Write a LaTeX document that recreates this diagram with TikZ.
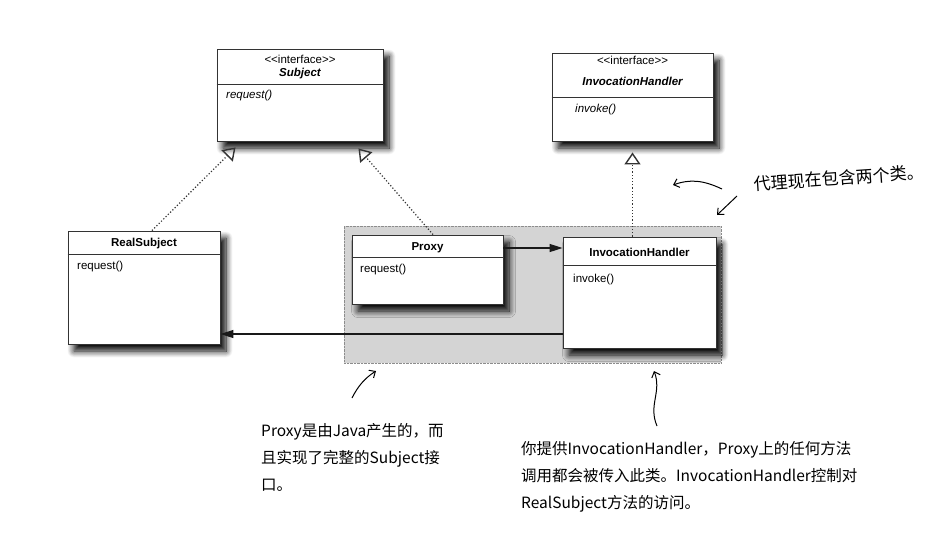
\documentclass[tikz,border=0pt]{standalone}
\usepackage{fontspec}
\setmainfont{Liberation Sans}
\newfontfamily\cjkfont{Noto Sans CJK SC}
\usetikzlibrary{arrows.meta,shadows.blur}

\tikzset{
  classbox/.style={rectangle, draw=black!80, line width=0.9pt, fill=white, inner sep=0pt,
    blur shadow={shadow xshift=6pt, shadow yshift=-7pt, shadow blur radius=6.5pt, shadow blur steps=10, shadow opacity=100}},
  classline/.style={draw=black!80, line width=0.9pt},
  umltext/.style={font=\fontsize{11.5}{13}\selectfont, inner sep=0pt},
  optext/.style={umltext, anchor=west},
  realize/.style={dotted, line width=1.2pt, black!80,
    -{Triangle[open, length=12pt, width=16pt, line width=1.4pt]}},
  assoc/.style={line width=1.4pt, black!90, -{Triangle[length=13pt, width=8pt]}},
  note/.style={font=\cjkfont\fontsize{15.5}{27}\selectfont, align=left, inner sep=0pt},
  scribble/.style={line width=1pt, -{Straight Barb[length=5pt, width=9pt]}}
}

\begin{document}
\begin{tikzpicture}[x=1pt, y=-1pt]

            \useasboundingbox (0,0) rectangle (931,533);

            \node[fill=black!17, draw=black!45, densely dotted, minimum width=377pt, minimum height=137pt] (dynproxy) at (532.5,294.5) {};

            \node[classbox, minimum width=166pt, minimum height=92pt] (subject) at (300,95) {};
            \node[umltext] (subjectst) at (300,59) {\textless{}\textless{}interface\textgreater{}\textgreater};
            \node[umltext, font=\fontsize{11.5}{13}\selectfont\bfseries\itshape] (subjectname) at (300,74) {Subject};
            \node[optext, font=\fontsize{11.5}{13}\selectfont\itshape] (subjectop) at (226,96) {request()};
            \draw[classline] (subject.west |- 0,84) -- (subject.east |- 0,84);

            \node[classbox, minimum width=161pt, minimum height=88pt] (ihint) at (632.5,97) {};
            \node[umltext] (ihintst) at (632.5,60) {\textless{}\textless{}interface\textgreater{}\textgreater};
            \node[umltext, font=\fontsize{11.5}{13}\selectfont\bfseries\itshape] (ihintname) at (632.5,81) {InvocationHandler};
            \node[optext, font=\fontsize{11.5}{13}\selectfont\itshape] (ihintop) at (575,110) {invoke()};
            \draw[classline] (ihint.west |- 0,97) -- (ihint.east |- 0,97);

            \node[classbox, minimum width=152pt, minimum height=113pt] (realsub) at (144,287.5) {};
            \node[umltext, font=\fontsize{11.5}{13}\selectfont\bfseries] (realsubname) at (144,244) {RealSubject};
            \node[optext] (realsubop) at (77,267) {request()};
            \draw[classline] (realsub.west |- 0,254) -- (realsub.east |- 0,254);

            \node[classbox, minimum width=151pt, minimum height=69pt] (proxy) at (427.5,269.5) {};
            \node[umltext, font=\fontsize{11.5}{13}\selectfont\bfseries] (proxyname) at (427.5,248) {Proxy};
            \node[optext] (proxyop) at (360,270) {request()};
            \draw[classline] (proxy.west |- 0,257) -- (proxy.east |- 0,257);

            \node[classbox, minimum width=153pt, minimum height=111pt] (handler) at (639.5,292.5) {};
            \node[umltext, font=\fontsize{11.5}{13}\selectfont\bfseries] (handlername) at (639.5,252) {InvocationHandler};
            \node[optext] (handlerop) at (573,280) {invoke()};
            \draw[classline] (handler.west |- 0,265) -- (handler.east |- 0,265);

            \draw[realize] ([xshift=8pt]realsub.north) -- ([xshift=19pt,yshift=-6pt]subject.south west);
            \draw[realize] ([xshift=5.5pt]proxy.north) -- ([xshift=-25pt,yshift=-7pt]subject.south east);
            \draw[realize] (handler.north -| ihint.south) -- ([yshift=-11pt]ihint.south);

            \draw[assoc] ([yshift=21.5pt]proxy.east) -- ([yshift=21.5pt]proxy.east -| handler.west);
            \draw[assoc] ([yshift=-41.5pt]handler.west) -- ([yshift=-41.5pt]handler.west -| realsub.east);

            \node[note, font=\cjkfont\fontsize{17}{20}\selectfont, rotate=4] (twonote) at (839,178) {代理现在包含两个类。};
            \node[note, anchor=north west] (javanote) at (261,423) {Proxy是由Java产生的，而\\且实现了完整的Subject接\\口。};
            \node[note, anchor=north west] (handlernote) at (521,441) {你提供InvocationHandler，Proxy上的任何方法\\调用都会被传入此类。InvocationHandler控制对\\RealSubject方法的访问。};

            \coordinate (twotail) at (722,189);
            \coordinate (twohead) at (673,185);
            \coordinate (boxtail) at (737,196);
            \coordinate (boxhead) at (717,215);
            \coordinate (javatail) at (352,398);
            \coordinate (javahead) at (376,371);
            \coordinate (handlertail) at (657,426);
            \coordinate (handlerhead) at (654,371);

            \draw[scribble] (twotail) .. controls (703,180) and (690,179) .. (twohead);
            \draw[scribble] (boxtail) -- (boxhead);
            \draw[scribble] (javatail) .. controls (358,386) and (365,378) .. (javahead);
            \draw[scribble] (handlertail) .. controls (648,405) and (662,392) .. (handlerhead);

        \end{tikzpicture}
\end{document}
